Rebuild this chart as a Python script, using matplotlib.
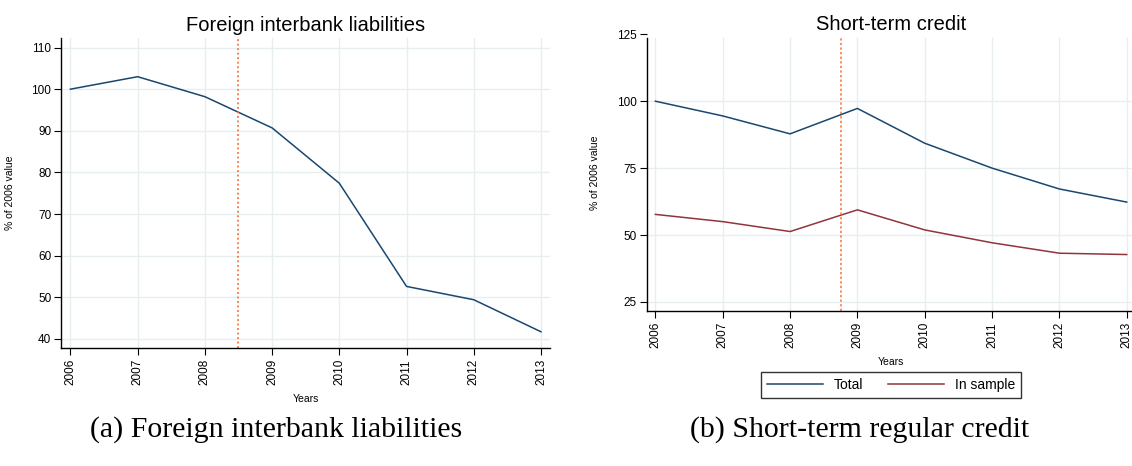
import matplotlib
matplotlib.use("Agg")
import matplotlib.pyplot as plt

plt.rcParams['font.family'] = ['Liberation Sans', 'DejaVu Sans']

years = [2006, 2007, 2008, 2009, 2010, 2011, 2012, 2013]
interbank = [100.0, 103.0, 98.2, 90.7, 77.4, 52.6, 49.4, 41.7]
credit_total = [100.0, 94.5, 87.8, 97.3, 84.3, 75.0, 67.2, 62.3]
credit_sample = [57.7, 55.0, 51.3, 59.4, 51.9, 47.1, 43.2, 42.7]
interbank_yticks = [40, 50, 60, 70, 80, 90, 100, 110]
credit_yticks = [25, 50, 75, 100, 125]
interbank_event = 2008.5
credit_event = 2008.75

NAVY = '#1a476f'
MAROON = '#90353b'
GRID = '#e6eef0'
EVENT = '#f4743b'

W, H = 1132, 466
fig = plt.figure(figsize=(W / 100, H / 100), dpi=100)


def px_axes(left, top, right, bottom):
    return fig.add_axes([left / W, 1 - bottom / H, (right - left) / W, (bottom - top) / H])


def style(ax, yticks):
    for s in ('top', 'right'):
        ax.spines[s].set_visible(False)
    for s in ('left', 'bottom'):
        ax.spines[s].set_linewidth(1.0)
    ax.set_xticks(years)
    ax.set_xticklabels([str(y) for y in years], rotation=90, fontsize=8.5)
    ax.set_yticks(yticks)
    ax.tick_params(axis='y', labelsize=8.5, length=5, width=0.8, pad=2)
    ax.tick_params(axis='x', length=5, width=0.8, pad=3)
    ax.grid(True, color=GRID, linewidth=1.0)
    ax.set_axisbelow(True)
    ax.set_xlabel('Years', fontsize=7.5, labelpad=6)
    ax.set_ylabel('% of 2006 value', fontsize=7.5, labelpad=12)


# (a) foreign interbank liabilities
ax1 = px_axes(61, 38, 550, 348)
ax1.plot(years, interbank, color=NAVY, lw=1.1)
ax1.axvline(interbank_event, color=EVENT, lw=1.3, ls=(0, (1, 1.5)))
ax1.set_xlim(2005.86, 2013.134)
ax1.set_ylim(37.8, 112.3)
style(ax1, interbank_yticks)
ax1.set_title('Foreign interbank liabilities', fontsize=14.5, pad=5)

# (b) short-term credit
ax2 = px_axes(646.5, 34.3, 1136, 311)
ax2.plot(years, credit_total, color=NAVY, lw=1.1, label='Total')
ax2.plot(years, credit_sample, color=MAROON, lw=1.1, label='In sample')
ax2.axvline(credit_event, color=EVENT, lw=1.1, ls=(0, (1.5, 1.5)), ymax=(123.5 - 21.6) / (125 - 21.6))
ax2.set_xlim(2005.868, 2013.138)
ax2.set_ylim(21.6, 125)
style(ax2, credit_yticks)
ax2.spines['left'].set_bounds(21.6, 123.5)
ax2.get_ygridlines()[-1].set_visible(False)
for gl in ax2.get_xgridlines():
    gl.set_data(gl.get_xdata(), [0, (123.5 - 21.6) / (125 - 21.6)])
ax2.set_title('Short-term credit', fontsize=14.5, pad=2)

leg = fig.legend(loc='center', bbox_to_anchor=(891 / W, 1 - 385 / H), ncol=2,
                 fontsize=10, frameon=True, fancybox=False, handlelength=4.0,
                 columnspacing=1.8, borderpad=0.4)
leg.get_frame().set_edgecolor('black')
leg.get_frame().set_linewidth(1.0)

cap = dict(family=['Liberation Serif', 'DejaVu Serif'], fontsize=21.5, ha='center', va='center')
fig.text(276 / W, 1 - 430 / H, '(a) Foreign interbank liabilities', **cap)
fig.text(860 / W, 1 - 430 / H, '(b) Short-term regular credit', **cap)

fig.savefig('out.png', dpi=100)
